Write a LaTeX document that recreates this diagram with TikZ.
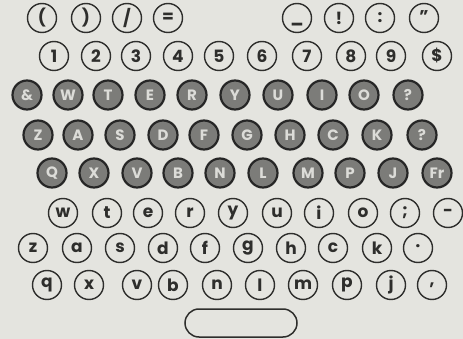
\documentclass[tikz,border=0pt]{standalone}
\usepackage{fontspec}
\setmainfont{Poppins}
\usetikzlibrary{positioning}
\definecolor{paper}{HTML}{E4E4DF}
\definecolor{keyring}{HTML}{2E2E2C}
\definecolor{keydark}{HTML}{7C7C79}
\definecolor{keytext}{HTML}{DCDCD8}

\begin{document}
\begin{tikzpicture}[x=1pt,y=-1pt,
  lkey/.style={circle, draw=keyring, line width=1.4pt, minimum size=29pt, inner sep=0pt,
    text=keyring, font=\fontsize{17}{17}\selectfont\bfseries},
  dkey/.style={circle, draw=black!85, fill=keydark, line width=2.2pt, minimum size=29pt, inner sep=0pt,
    text=keytext, font=\fontsize{15}{15}\selectfont\bfseries}]
\fill[paper] (0,0) rectangle (463,339);
\useasboundingbox (0,0) rectangle (463,339);
% signs
\foreach \x/\t [count=\i] in {42/(,86/),127/{/},168/=,297/{\vphantom{1}\_},339/!,380/:,424/{\vphantom{,}"}}
  \node[lkey] (sign\i) at (\x,18) {\t};
% figures
\foreach \x/\t [count=\i] in {54/1,96/2,136/3,178/4,219/5,262/6,307/7,351/8,391/9,437/\$}
  \node[lkey] (fig\i) at (\x,56) {\t};
% capitals
\foreach \x/\t [count=\i] in {27/\&,68/W,108/T,150/E,192/R,235/Y,278/U,322/I,364/O,408/?}
  \node[dkey] (capA\i) at (\x,95) {\t};
\foreach \x/\t [count=\i] in {38/Z,78/A,120/S,163/D,204/F,247/G,290/H,333/C,377/K,422/?}
  \node[dkey] (capB\i) at (\x,135) {\t};
\foreach \x/\t [count=\i] in {52/Q,94/X,137/V,178/B,220/N,263/L,308/M,350/P,393/J,437/Fr}
  \node[dkey] (capC\i) at (\x,173) {\t};
% small letters
\foreach \x/\t [count=\i] in {63/w,107/t,148/e,190/r,233/y,277/u,319/i,363/o,405/;,448/-}
  \node[lkey] (lowA\i) at (\x,213) {\t};
\foreach \x/\t [count=\i] in {33/z,77/a,120/s,163/d,205/f,248/g,291/h,333/c,377/k,418/·}
  \node[lkey] (lowB\i) at (\x,248) {\t};
\foreach \x/\t [count=\i] in {47/q,89/x,137/v,173/b,217/n,260/l,303/m,347/p,391/j,432/{,}}
  \node[lkey] (lowC\i) at (\x,285) {\t};
% space bar
\node[draw=keyring, line width=1.5pt, rounded corners=14pt, minimum width=112pt, minimum height=28pt]
  (space) at (241,323) {};
\end{tikzpicture}
\end{document}
